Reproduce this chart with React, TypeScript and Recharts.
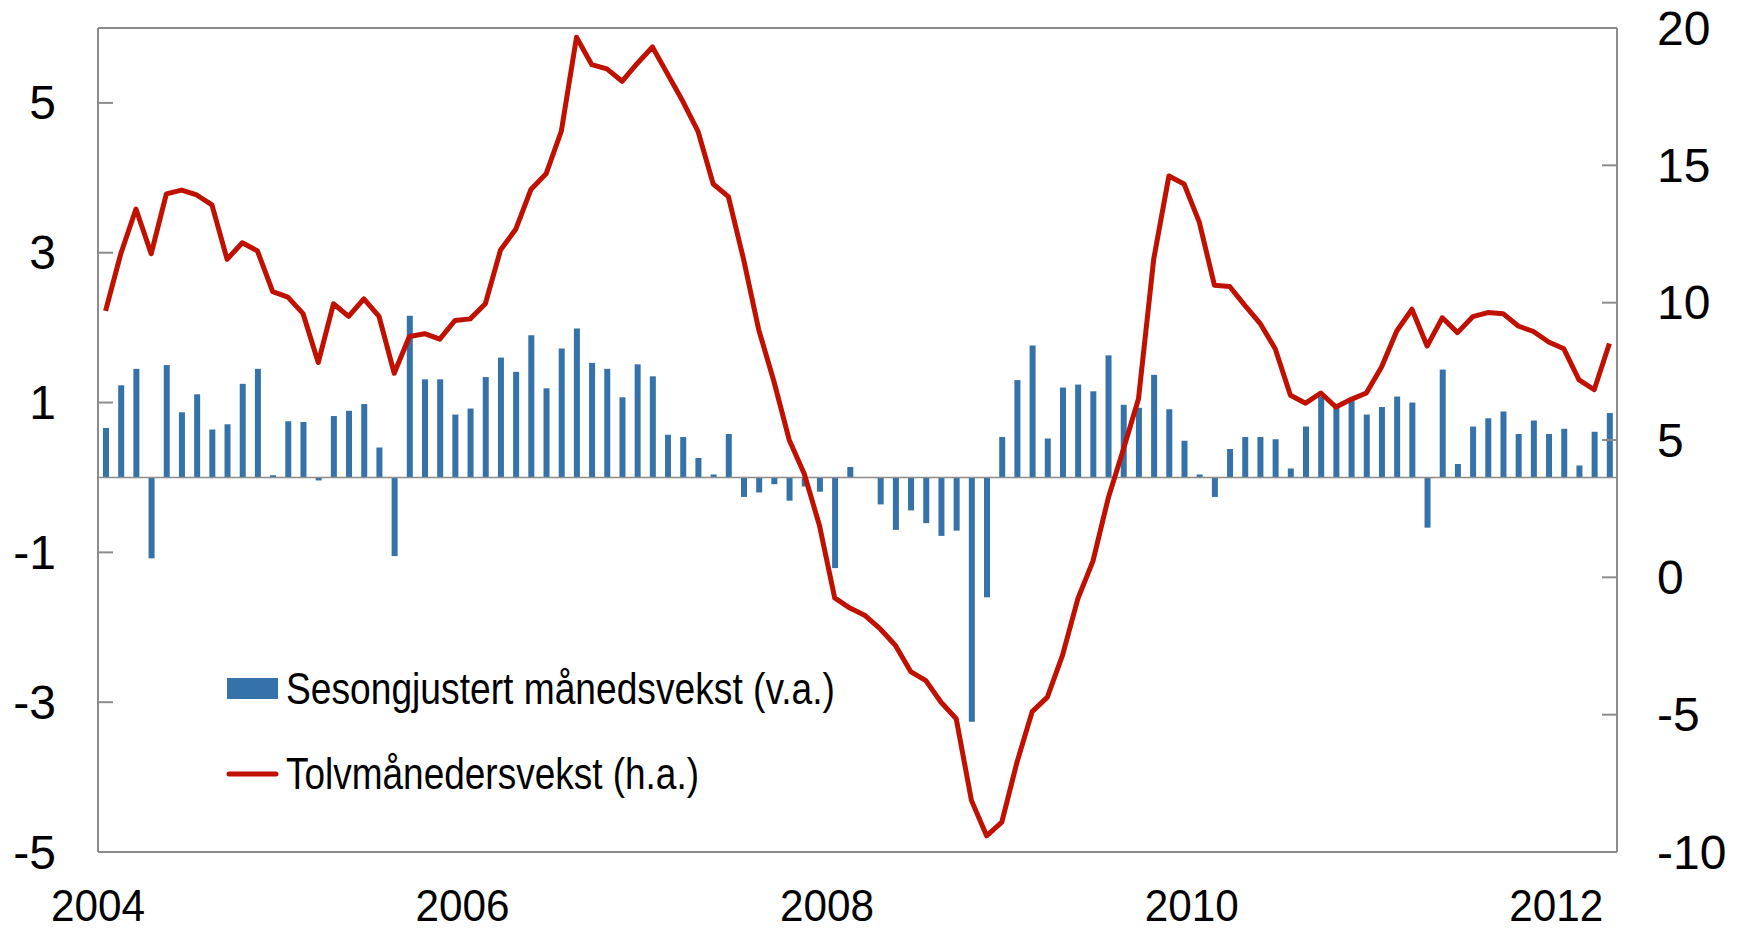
import React from 'react';
import { ComposedChart, Bar, Line, XAxis, YAxis, ReferenceLine, Legend } from 'recharts';

// Monthly data, Jan 2004 - Apr 2012 (x = month index + 0.5)
const yearTicks = [0, 24, 48, 72, 96];
const yearLabels = ['2004', '2006', '2008', '2010', '2012'];
const leftTicks = [-5, -3, -1, 1, 3, 5];
const rightTicks = [-10, -5, 0, 5, 10, 15, 20];

const monthlyGrowth = [
  0.66, 1.23, 1.45, -1.08, 1.5, 0.87, 1.11, 0.64, 0.71, 1.25,
  1.45, 0.03, 0.75, 0.74, -0.04, 0.82, 0.89, 0.98, 0.4, -1.05,
  2.16, 1.31, 1.31, 0.84, 0.92, 1.34, 1.6, 1.41, 1.9, 1.19,
  1.72, 1.99, 1.53, 1.45, 1.07, 1.51, 1.35, 0.57, 0.54, 0.26,
  0.04, 0.58, -0.26, -0.2, -0.09, -0.31, -0.12, -0.19, -1.21, 0.14,
  0.0, -0.36, -0.7, -0.44, -0.61, -0.78, -0.71, -3.26, -1.6, 0.54,
  1.3, 1.76, 0.52, 1.2, 1.24, 1.15, 1.63, 0.97, 0.93, 1.37,
  0.91, 0.49, 0.04, -0.26, 0.38, 0.54, 0.54, 0.51, 0.12, 0.68,
  1.08, 0.95, 1.02, 0.84, 0.94, 1.08, 1.0, -0.67, 1.44, 0.18,
  0.68, 0.79, 0.88, 0.58, 0.76, 0.58, 0.65, 0.16, 0.61, 0.86,
];

const twelveMonthGrowth = [
  9.7, 11.78, 13.41, 11.78, 13.96, 14.1, 13.92, 13.56, 11.58, 12.18,
  11.88, 10.4, 10.2, 9.6, 7.82, 9.96, 9.5, 10.14, 9.5, 7.43,
  8.77, 8.87, 8.67, 9.35, 9.41, 9.96, 11.92, 12.67, 14.12, 14.69,
  16.24, 19.66, 18.67, 18.51, 18.06, 18.71, 19.31, 18.32, 17.33, 16.24,
  14.32, 13.86, 11.58, 9.01, 7.13, 5.01, 3.76, 1.88, -0.75, -1.12,
  -1.39, -1.88, -2.48, -3.43, -3.76, -4.55, -5.15, -8.12, -9.41, -8.91,
  -6.73, -4.89, -4.36, -2.83, -0.79, 0.59, 2.87, 4.65, 6.5, 11.58,
  14.61, 14.32, 12.93, 10.63, 10.59, 9.9, 9.25, 8.32, 6.63, 6.34,
  6.71, 6.2, 6.48, 6.71, 7.66, 8.97, 9.76, 8.42, 9.45, 8.91,
  9.49, 9.64, 9.6, 9.15, 8.95, 8.57, 8.32, 7.19, 6.83, 8.51,
];

const data = monthlyGrowth.map((v, i) => ({ x: i + 0.5, m: v, t: twelveMonthGrowth[i] }));

const FONT = '"Liberation Sans", Arial, sans-serif';
const GRAY = '#8c8c8c';
const BLUE = '#3572a9';
const RED = '#bf1000';
const Y_TICK_FONT = 48;
const X_TICK_FONT = 45;

const LeftTick = (props: any) => {
  const { x, y, payload } = props;
  return (
    <g>
      <line x1={x} x2={x + 15} y1={y} y2={y} stroke={GRAY} strokeWidth={2} />
      <text x={x - 42} y={y} textAnchor="end" dominantBaseline="central" fontSize={Y_TICK_FONT} fontFamily={FONT} fill="#000">
        {String(payload.value)}
      </text>
    </g>
  );
};

const RightTick = (props: any) => {
  const { x, y, payload } = props;
  return (
    <g>
      <line x1={x} x2={x - 15} y1={y} y2={y} stroke={GRAY} strokeWidth={2} />
      <text x={x + 40} y={y} textAnchor="start" dominantBaseline="central" fontSize={Y_TICK_FONT} fontFamily={FONT} fill="#000">
        {String(payload.value)}
      </text>
    </g>
  );
};

const BottomTick = (props: any) => {
  const { x, y, payload } = props;
  const idx = yearTicks.indexOf(payload.value);
  return (
    <text x={x} y={y + 69} textAnchor="middle" fontSize={X_TICK_FONT} fontFamily={FONT} fill="#000" textLength={94} lengthAdjust="spacingAndGlyphs">
      {idx >= 0 ? yearLabels[idx] : ''}
    </text>
  );
};

const LegendContent = (props: any) => {
  const payload = props.payload || [];
  const barItem = payload.find((p: any) => p.dataKey === 'm');
  const lineItem = payload.find((p: any) => p.dataKey === 't');
  return (
    <svg width={820} height={170} style={{ display: 'block' }}>
      <rect x={7} y={28} width={51} height={21} fill={BLUE} />
      <text x={66} y={54} fontSize={44} fontFamily={FONT} fill="#000" textLength={549} lengthAdjust="spacingAndGlyphs">
        {barItem ? barItem.value : ''}
      </text>
      <line x1={9} x2={56} y1={124} y2={124} stroke={RED} strokeWidth={5} strokeLinecap="round" />
      <text x={66} y={139} fontSize={44} fontFamily={FONT} fill="#000" textLength={413} lengthAdjust="spacingAndGlyphs">
        {lineItem ? lineItem.value : ''}
      </text>
    </svg>
  );
};

export default function App() {
  return (
    <div style={{ width: 1746, height: 930, background: '#fff' }}>
      <style>{'body{margin:0;}'}</style>
      <ComposedChart width={1746} height={930} data={data} margin={{ top: 28, right: 0, bottom: 0, left: 0 }}>
        <XAxis
          dataKey="x"
          type="number"
          domain={[0, 100]}
          ticks={yearTicks}
          interval={0}
          height={78}
          tickLine={false}
          tickSize={0}
          tickMargin={0}
          axisLine={{ stroke: GRAY, strokeWidth: 2 }}
          tick={<BottomTick />}
          allowDataOverflow
        />
        <YAxis
          yAxisId="left"
          orientation="left"
          width={98}
          domain={[-5, 6]}
          ticks={leftTicks}
          interval={0}
          tickLine={false}
          tickSize={0}
          tickMargin={0}
          axisLine={{ stroke: GRAY, strokeWidth: 2 }}
          tick={<LeftTick />}
          allowDataOverflow
        />
        <YAxis
          yAxisId="right"
          orientation="right"
          width={129}
          domain={[-10, 20]}
          ticks={rightTicks}
          interval={0}
          tickLine={false}
          tickSize={0}
          tickMargin={0}
          axisLine={{ stroke: GRAY, strokeWidth: 2 }}
          tick={<RightTick />}
          allowDataOverflow
        />
        <ReferenceLine yAxisId="left" y={6} stroke={GRAY} strokeWidth={2} />
        <ReferenceLine yAxisId="left" y={0} stroke={GRAY} strokeWidth={1.5} />
        <Bar
          yAxisId="left"
          dataKey="m"
          name="Sesongjustert månedsvekst (v.a.)"
          fill={BLUE}
          barSize={6}
          isAnimationActive={false}
        />
        <Line
          yAxisId="right"
          dataKey="t"
          name="Tolvmånedersvekst (h.a.)"
          stroke={RED}
          strokeWidth={5}
          dot={false}
          activeDot={false}
          strokeLinejoin="round"
          isAnimationActive={false}
        />
        <Legend
          layout="horizontal"
          verticalAlign="middle"
          align="center"
          content={<LegendContent />}
          wrapperStyle={{ position: 'absolute', left: 220, top: 650, width: 820, height: 170 }}
        />
      </ComposedChart>
    </div>
  );
}
